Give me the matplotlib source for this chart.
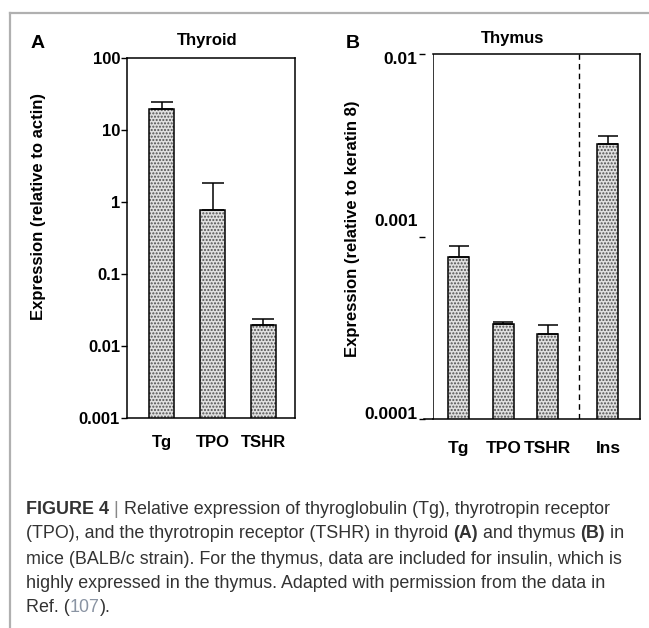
import matplotlib
matplotlib.use("Agg")
import matplotlib.pyplot as plt
from matplotlib.lines import Line2D
from matplotlib.transforms import ScaledTranslation

plt.rcParams["font.family"] = ["Liberation Sans", "DejaVu Sans"]

# --- data --------------------------------------------------------------------
thyroid_genes = ["Tg", "TPO", "TSHR"]
thyroid_expr = [19.5, 0.78, 0.0195]
thyroid_err_top = [24.5, 1.86, 0.0237]

thymus_genes = ["Tg", "TPO", "TSHR", "Ins"]
thymus_expr = [0.000774, 0.000331, 0.000292, 0.0032]
thymus_err_top = [0.000887, 0.000341, 0.000327, 0.00357]

thyroid_ticks = [0.001, 0.01, 0.1, 1, 10, 100]
thyroid_ticklabels = ["0.001", "0.01", "0.1", "1", "10", "100"]
thymus_ticks = [0.0001, 0.001, 0.01]
thymus_ticklabels = ["0.0001", "0.001", "0.01"]

# --- layout ------------------------------------------------------------------
thyroid_pos = [0, 1, 2]
thymus_pos = [0, 1, 2, 3.35]
W, H = 649, 628
DPI = 100

fig = plt.figure(figsize=(W / DPI, H / DPI), dpi=DPI)


def px(x, y):
    return x / W, 1 - y / H


def draw_bars(ax, pos, vals, tops, width, capsize):
    # stippled fill first, black outline on top
    ax.bar(pos, vals, width=width, bottom=1e-9,
           color="#e0e0e0", hatch=".....", edgecolor="#505050", linewidth=0, zorder=2)
    ax.bar(pos, vals, width=width, bottom=1e-9, fill=False,
           edgecolor="black", linewidth=1.1, zorder=3)
    upper = [t - v for t, v in zip(tops, vals)]
    ax.errorbar(pos, vals, yerr=[[0] * len(vals), upper], fmt="none",
                ecolor="black", elinewidth=1.1, capsize=capsize, capthick=1.1, zorder=4)


# Panel A: thyroid
axA = fig.add_axes([127 / W, 1 - 418 / H, (295 - 127) / W, (418 - 58) / H])
axA.set_yscale("log")
axA.set_ylim(0.001, 100)
axA.set_xlim(-0.68, 2.62)
draw_bars(axA, thyroid_pos, thyroid_expr, thyroid_err_top, 0.49, 8)
axA.yaxis.set_minor_locator(plt.NullLocator())
axA.set_yticks(thyroid_ticks)
axA.set_yticklabels(thyroid_ticklabels, fontsize=12, fontweight="bold")
axA.set_xticks(thyroid_pos)
axA.set_xticklabels(thyroid_genes, fontsize=12, fontweight="bold")
axA.tick_params(axis="x", length=0, pad=12)
axA.tick_params(axis="y", length=4, width=1, pad=1)
for s in axA.spines.values():
    s.set_linewidth(1.1)
fig.text(*px(207, 40), "Thyroid", fontsize=12, fontweight="bold", ha="center", va="center")
fig.text(*px(38, 43), "A", fontsize=14, fontweight="bold", ha="center", va="center")
fig.text(*px(39, 206), "Expression (relative to actin)", fontsize=12, fontweight="bold",
         rotation=90, ha="center", va="center")

# Panel B: thymus
axB = fig.add_axes([433 / W, 1 - 419 / H, (640 - 433) / W, (419 - 54) / H])
# y ticks sit a little left of the box, detached from it
axB.spines["left"].set_position(("outward", 6))
axB.spines["left"].set_visible(False)
axB.set_yscale("log")
axB.set_ylim(0.0001, 0.01)
axB.set_xlim(-0.58, 4.07)
draw_bars(axB, thymus_pos, thymus_expr, thymus_err_top, 0.47, 7)
axB.axvline(2.7, color="black", linestyle=(0, (4, 3)), linewidth=1, zorder=1)
axB.yaxis.set_minor_locator(plt.NullLocator())
axB.set_yticks(thymus_ticks)
axB.set_yticklabels(thymus_ticklabels, fontsize=12.5, fontweight="bold")
axB.set_xticks(thymus_pos)
axB.set_xticklabels(thymus_genes, fontsize=12.5, fontweight="bold")
axB.tick_params(axis="x", length=0, pad=16)
axB.tick_params(axis="y", length=4, width=1, pad=1)
for s in axB.spines.values():
    s.set_linewidth(1.1)
axB.axvline(-0.58, color="black", linewidth=1.1, zorder=5)
axB.add_line(Line2D([-0.045, 0], [0, 0], transform=axB.transAxes, color="black",
                    linewidth=1.1, clip_on=False))
# uneven label offsets in the original
for lbl, dy in zip(axB.get_yticklabels(), [4, 12, -3]):
    lbl.set_transform(lbl.get_transform() + ScaledTranslation(0, dy / 72, fig.dpi_scale_trans))
fig.text(*px(513, 38), "Thymus", fontsize=12, fontweight="bold", ha="center", va="center")
fig.text(*px(353, 43), "B", fontsize=14, fontweight="bold", ha="center", va="center")
fig.text(*px(352, 229), "Expression (relative to keratin 8)", fontsize=12, fontweight="bold",
         rotation=90, ha="center", va="center")

# page frame
fig.add_artist(Line2D([10 / W, 1], [1 - 13 / H] * 2, color="#b0b0b0", linewidth=1.6))
fig.add_artist(Line2D([10 / W] * 2, [1 - 13 / H, 0], color="#b0b0b0", linewidth=1.6))

# caption
cap_color = "#333333"
cap_size = 12.9
caption_lines = [
    [("FIGURE 4", "bold", cap_color), (" | ", "normal", "#888888"),
     ("Relative expression of thyroglobulin (Tg), thyrotropin receptor", "normal", cap_color)],
    [("(TPO), and the thyrotropin receptor (TSHR) in thyroid ", "normal", cap_color),
     ("(A)", "bold", cap_color), (" and thymus ", "normal", cap_color),
     ("(B)", "bold", cap_color), (" in", "normal", cap_color)],
    [("mice (BALB/c strain). For the thymus, data are included for insulin, which is",
      "normal", cap_color)],
    [("highly expressed in the thymus. Adapted with permission from the data in",
      "normal", cap_color)],
    [("Ref. (", "normal", cap_color), ("107", "normal", "#8a94a3"), (").", "normal", cap_color)],
]
line_y = [510, 534, 559, 584, 608]

renderer = fig.canvas.get_renderer()
for runs, y in zip(caption_lines, line_y):
    x = 26
    for text, weight, color in runs:
        t = fig.text(*px(x, y), text, fontsize=cap_size, fontweight=weight, color=color,
                     ha="left", va="center")
        bb = t.get_window_extent(renderer)
        x = bb.x1

fig.savefig("out.png", dpi=DPI)
